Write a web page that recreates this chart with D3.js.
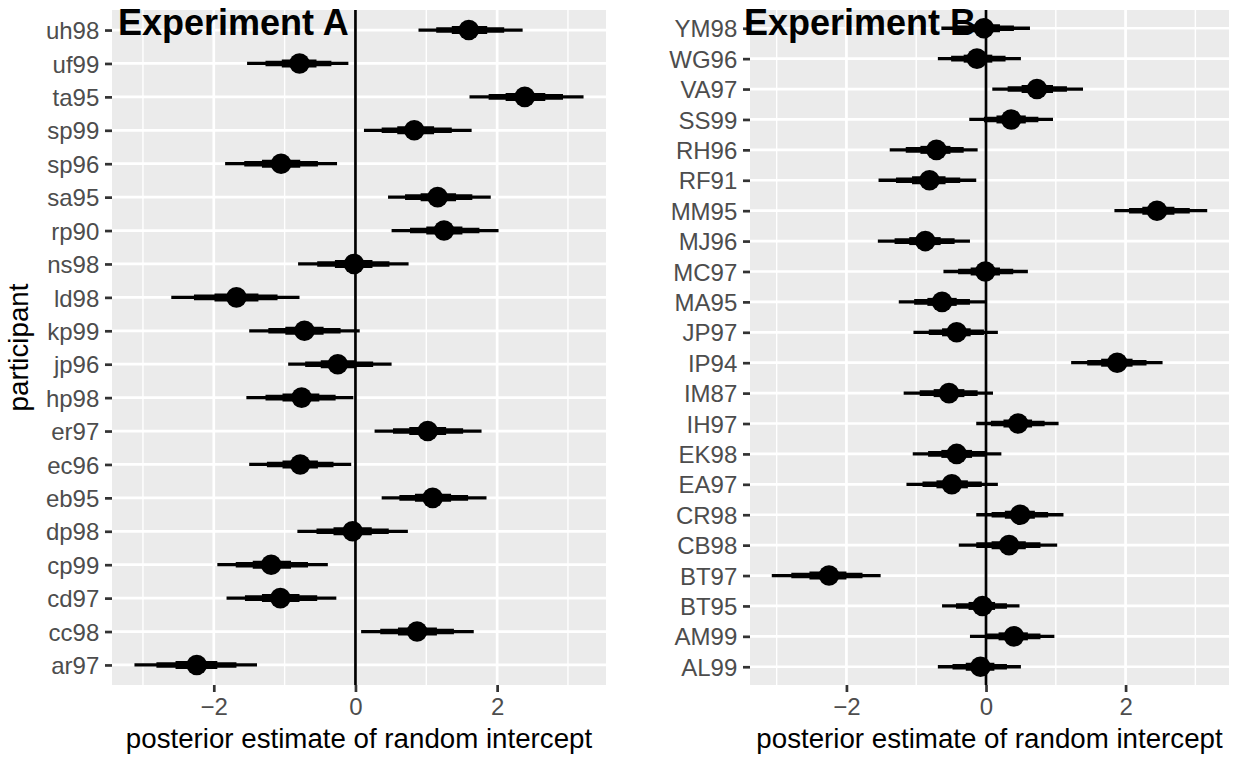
<!DOCTYPE html>
<html>
<head>
<meta charset="utf-8">
<script src="https://cdn.jsdelivr.net/npm/d3@7"></script>
<style>
  html, body { margin: 0; padding: 0; background: #fff; }
  svg { display: block; font-family: "Liberation Sans", Arial, Helvetica, sans-serif; }
</style>
</head>
<body>
<svg id="chart" width="1250" height="757"></svg>
<script>
// ---------------------------------------------------------------------------
// Data (rows listed top to bottom, as they appear)
// ---------------------------------------------------------------------------

const expANames = ["uh98", "uf99", "ta95", "sp99", "sp96", "sa95", "rp90", "ns98", "ld98", "kp99",
  "jp96", "hp98", "er97", "ec96", "eb95", "dp98", "cp99", "cd97", "cc98", "ar97"];
const expAMean = [1.60, -0.79, 2.39, 0.83, -1.05, 1.16, 1.25, -0.02, -1.68, -0.72,
  -0.25, -0.76, 1.02, -0.78, 1.09, -0.04, -1.19, -1.06, 0.87, -2.24];
const expALo95 = [0.89, -1.53, 1.61, 0.12, -1.84, 0.46, 0.51, -0.81, -2.60, -1.50,
  -0.95, -1.54, 0.27, -1.50, 0.37, -0.82, -1.95, -1.82, 0.08, -3.12];
const expAHi95 = [2.36, -0.10, 3.22, 1.64, -0.26, 1.91, 2.02, 0.75, -0.79, 0.06,
  0.51, -0.03, 1.78, -0.06, 1.85, 0.74, -0.39, -0.27, 1.67, -1.39];
const expALo80 = [1.14, -1.27, 1.88, 0.37, -1.57, 0.70, 0.77, -0.54, -2.28, -1.23,
  -0.71, -1.27, 0.53, -1.25, 0.62, -0.55, -1.69, -1.56, 0.35, -2.81];
const expAHi80 = [2.10, -0.34, 2.93, 1.36, -0.53, 1.65, 1.75, 0.48, -1.10, -0.21,
  0.25, -0.28, 1.52, -0.31, 1.59, 0.47, -0.67, -0.54, 1.39, -1.68];
const expALo50 = [1.36, -1.04, 2.12, 0.59, -1.32, 0.92, 1.00, -0.29, -1.99, -0.99,
  -0.49, -1.03, 0.76, -1.03, 0.84, -0.31, -1.45, -1.32, 0.60, -2.54];
const expAHi50 = [1.86, -0.55, 2.68, 1.11, -0.78, 1.42, 1.51, 0.24, -1.37, -0.45,
  0.01, -0.51, 1.28, -0.53, 1.35, 0.23, -0.91, -0.79, 1.15, -1.95];

const expBNames = ["YM98", "WG96", "VA97", "SS99", "RH96", "RF91", "MM95", "MJ96", "MC97", "MA95", "JP97",
  "IP94", "IM87", "IH97", "EK98", "EA97", "CR98", "CB98", "BT97", "BT95", "AM99", "AL99"];
const expBMean = [-0.03, -0.13, 0.73, 0.36, -0.71, -0.81, 2.45, -0.87, -0.01, -0.63, -0.42,
  1.88, -0.53, 0.46, -0.42, -0.49, 0.49, 0.33, -2.25, -0.05, 0.40, -0.08];
const expBLo95 = [-0.64, -0.69, 0.09, -0.24, -1.38, -1.54, 1.84, -1.55, -0.61, -1.25, -1.04,
  1.22, -1.18, -0.14, -1.05, -1.14, -0.14, -0.39, -3.07, -0.63, -0.23, -0.69];
const expBHi95 = [0.63, 0.50, 1.39, 0.96, -0.12, -0.14, 3.17, -0.23, 0.60, -0.01, 0.17,
  2.53, 0.10, 1.04, 0.22, 0.17, 1.11, 1.02, -1.51, 0.48, 0.98, 0.50];
const expBLo80 = [-0.43, -0.50, 0.31, -0.03, -1.15, -1.29, 2.05, -1.31, -0.40, -1.03, -0.82,
  1.45, -0.95, 0.07, -0.83, -0.91, 0.08, -0.14, -2.79, -0.43, -0.01, -0.48];
const expBHi80 = [0.40, 0.28, 1.16, 0.75, -0.32, -0.37, 2.92, -0.45, 0.39, -0.23, -0.03,
  2.30, -0.12, 0.84, 0.00, -0.06, 0.89, 0.78, -1.77, 0.30, 0.78, 0.30];
const expBLo50 = [-0.24, -0.32, 0.51, 0.15, -0.94, -1.06, 2.24, -1.10, -0.22, -0.84, -0.63,
  1.65, -0.75, 0.25, -0.64, -0.71, 0.27, 0.08, -2.53, -0.25, 0.18, -0.29];
const expBHi50 = [0.20, 0.09, 0.96, 0.57, -0.51, -0.58, 2.70, -0.65, 0.20, -0.42, -0.22,
  2.10, -0.31, 0.66, -0.20, -0.26, 0.70, 0.57, -2.00, 0.13, 0.60, 0.12];

const xMajorTicks = [-2, 0, 2];
const xMinorTicks = [-3, -1, 1, 3];

// ---------------------------------------------------------------------------
// Style
// ---------------------------------------------------------------------------

const PANEL_TOP = 10;
const PANEL_BOTTOM = 685;
const TICK_LEN = 7;
const TICK_PAD = 5.7;
const TEXT_SIZE = 24;
const TITLE_SIZE = 27.7;
const LABEL_SIZE = 36;
const INTERVAL_WIDTHS = [3.3, 5.6, 8]; // 95%, 80%, 50%
const POINT_R = 10.3;

const svg = d3.select("#chart");

function drawPanel(opts) {
  const { left, right, names, mean, lo95, hi95, lo80, hi80, lo50, hi50, label, labelX, yTitle } = opts;

  const lo = d3.min(lo95), hi = d3.max(hi95);
  const pad = (hi - lo) * 0.05;
  const x = d3.scaleLinear().domain([lo - pad, hi + pad]).range([left, right]);
  const y = d3.scalePoint().domain(names).range([PANEL_TOP, PANEL_BOTTOM]).padding(0.6);

  const g = svg.append("g");

  // panel background + grid
  g.append("rect")
    .attr("x", left).attr("y", PANEL_TOP)
    .attr("width", right - left).attr("height", PANEL_BOTTOM - PANEL_TOP)
    .attr("fill", "#EBEBEB");

  g.selectAll(".minor").data(xMinorTicks).join("line")
    .attr("x1", d => x(d)).attr("x2", d => x(d))
    .attr("y1", PANEL_TOP).attr("y2", PANEL_BOTTOM)
    .attr("stroke", "#fff").attr("stroke-width", 1.4);

  g.selectAll(".majorx").data(xMajorTicks).join("line")
    .attr("x1", d => x(d)).attr("x2", d => x(d))
    .attr("y1", PANEL_TOP).attr("y2", PANEL_BOTTOM)
    .attr("stroke", "#fff").attr("stroke-width", 2.7);

  g.selectAll(".majory").data(names).join("line")
    .attr("x1", left).attr("x2", right)
    .attr("y1", d => y(d)).attr("y2", d => y(d))
    .attr("stroke", "#fff").attr("stroke-width", 2.7);

  // reference line at zero
  g.append("line")
    .attr("x1", x(0)).attr("x2", x(0))
    .attr("y1", PANEL_TOP).attr("y2", PANEL_BOTTOM)
    .attr("stroke", "#000").attr("stroke-width", 2.7);

  // intervals, widest first
  const levels = [[lo95, hi95], [lo80, hi80], [lo50, hi50]];
  levels.forEach(([l, h], k) => {
    g.append("g").selectAll("line").data(names).join("line")
      .attr("x1", (d, i) => x(l[i])).attr("x2", (d, i) => x(h[i]))
      .attr("y1", d => y(d)).attr("y2", d => y(d))
      .attr("stroke", "#000").attr("stroke-width", INTERVAL_WIDTHS[k]);
  });

  g.append("g").selectAll("circle").data(names).join("circle")
    .attr("cx", (d, i) => x(mean[i])).attr("cy", d => y(d))
    .attr("r", POINT_R).attr("fill", "#000");

  // axes
  const xAxis = g.append("g")
    .attr("transform", `translate(0,${PANEL_BOTTOM})`)
    .call(d3.axisBottom(x).tickValues(xMajorTicks).tickSize(TICK_LEN).tickPadding(TICK_PAD)
      .tickFormat(d3.format("d")));
  const yAxis = g.append("g")
    .attr("transform", `translate(${left},0)`)
    .call(d3.axisLeft(y).tickSize(TICK_LEN).tickPadding(TICK_PAD));

  [xAxis, yAxis].forEach(a => {
    a.select(".domain").remove();
    a.selectAll(".tick line").attr("stroke", "#333333").attr("stroke-width", 2.7);
    a.selectAll(".tick text")
      .attr("fill", "#4D4D4D")
      .style("font-size", TEXT_SIZE + "px")
      .style("font-family", "'Liberation Sans', Arial, sans-serif");
  });
  xAxis.selectAll(".tick text").attr("dy", "0.70em");
  yAxis.selectAll(".tick text").attr("dy", "0.36em");

  // x axis title
  g.append("text")
    .attr("x", (left + right) / 2).attr("y", 748)
    .attr("text-anchor", "middle")
    .style("font-size", TITLE_SIZE + "px")
    .attr("fill", "#000")
    .text("posterior estimate of random intercept");

  if (yTitle) {
    g.append("text")
      .attr("transform", `translate(28,${(PANEL_TOP + PANEL_BOTTOM) / 2}) rotate(-90)`)
      .attr("text-anchor", "middle")
      .style("font-size", TITLE_SIZE + "px")
      .attr("fill", "#000")
      .text(yTitle);
  }

  // panel label on top
  svg.append("text")
    .attr("x", labelX).attr("y", 35)
    .style("font-size", LABEL_SIZE + "px")
    .style("font-weight", "bold")
    .attr("fill", "#000")
    .text(label);
}

drawPanel({
  left: 112, right: 606,
  names: expANames, mean: expAMean,
  lo95: expALo95, hi95: expAHi95, lo80: expALo80, hi80: expAHi80, lo50: expALo50, hi50: expAHi50,
  label: "Experiment A", labelX: 118, yTitle: "participant"
});

drawPanel({
  left: 750, right: 1229,
  names: expBNames, mean: expBMean,
  lo95: expBLo95, hi95: expBHi95, lo80: expBLo80, hi80: expBHi80, lo50: expBLo50, hi50: expBHi50,
  label: "Experiment B", labelX: 744, yTitle: null
});
</script>
</body>
</html>
